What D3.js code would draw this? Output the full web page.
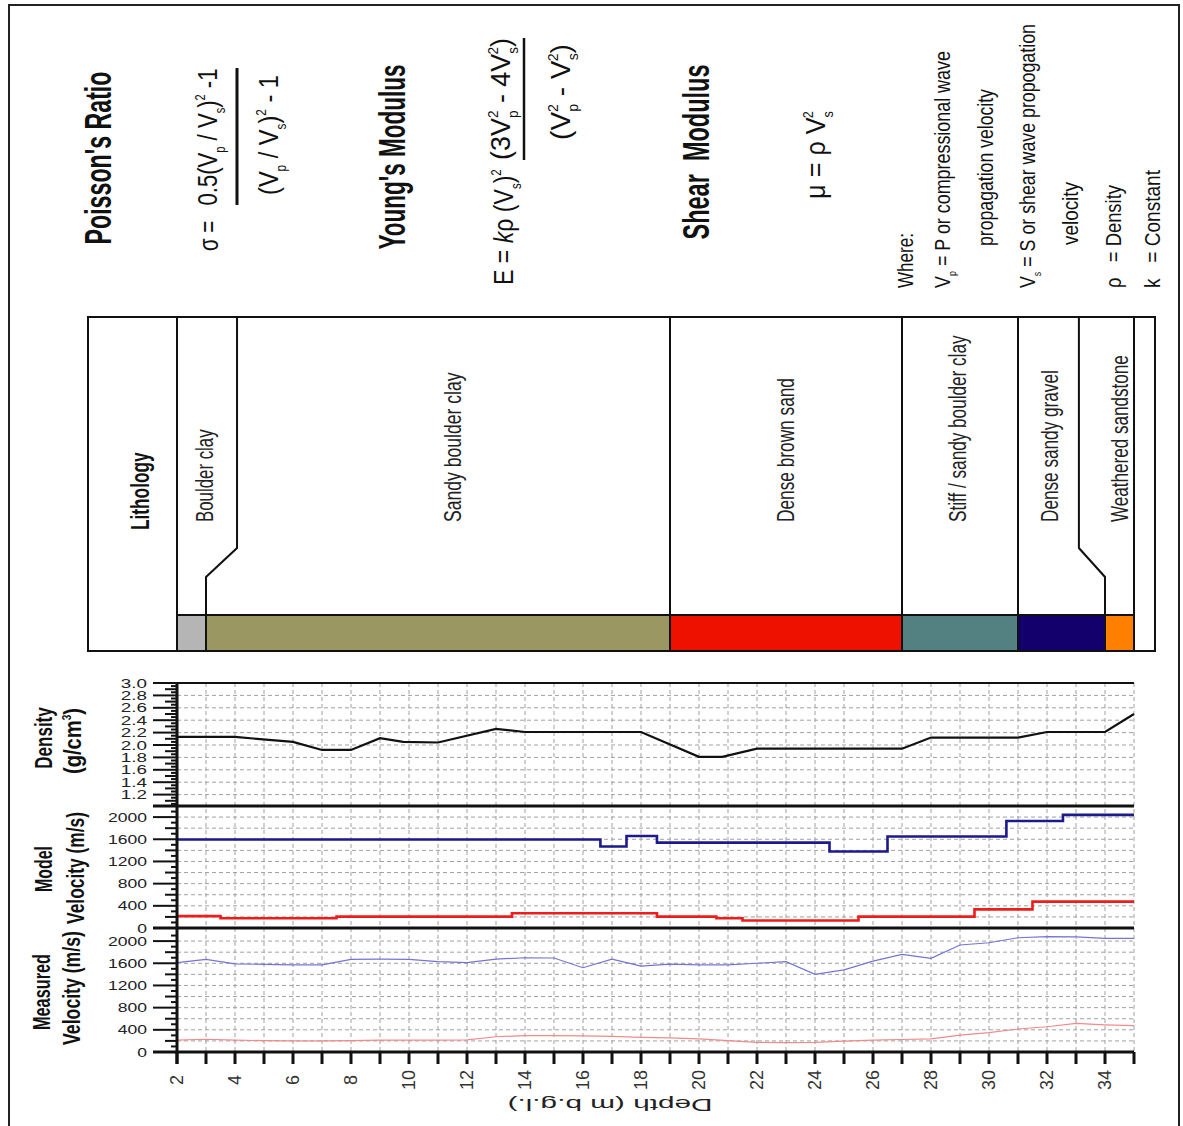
<!DOCTYPE html>
<html>
<head>
<meta charset="utf-8">
<script src="https://cdn.jsdelivr.net/npm/d3@7/dist/d3.min.js"></script>
<style>
  body { margin: 0; background: #fff; }
  svg { display: block; }
  text { white-space: pre; }
</style>
</head>
<body>
<svg id="chart" width="1183" height="1126"></svg>
<script>
// ---------------- data ----------------
// Density log (g/cm3) against depth (m b.g.l.)
const densityDepth = [2, 4, 6, 7, 8, 9, 9.8, 11, 13, 14, 18, 20, 20.8, 22, 27, 28, 31, 32, 34, 35];
const densityValue = [2.13, 2.13, 2.05, 1.92, 1.92, 2.11, 2.05, 2.04, 2.26, 2.21, 2.21, 1.81, 1.81, 1.94, 1.94, 2.12, 2.12, 2.21, 2.21, 2.5];

// Model velocities: layer tops (m) and constant velocity within each layer (m/s)
const modelVpTop   = [2, 16.6, 17.5, 18.55, 24.5, 26.5, 30.6, 32.55];
const modelVpValue = [1595, 1470, 1660, 1540, 1380, 1650, 1930, 2040];
const modelVsTop   = [2, 3.5, 7.5, 13.55, 18.55, 20.6, 21.5, 25.5, 29.5, 31.5];
const modelVsValue = [215, 175, 205, 265, 205, 175, 135, 205, 335, 475];
const modelBase = 35;

// Measured velocities (m/s) at 1 m intervals
const measuredDepth = [2, 3, 4, 5, 6, 7, 8, 9, 10, 11, 12, 13, 14, 15, 16, 17, 18, 19, 20, 21, 22, 23, 24, 25, 26, 27, 28, 29, 30, 31, 32, 33, 34, 35];
const measuredVp = [1610, 1670, 1590, 1580, 1570, 1570, 1670, 1675, 1670, 1630, 1610, 1675, 1700, 1695, 1520, 1675, 1550, 1585, 1570, 1570, 1600, 1630, 1400, 1480, 1640, 1760, 1690, 1930, 1970, 2060, 2080, 2075, 2050, 2050];
const measuredVs = [215, 230, 215, 205, 200, 200, 205, 215, 215, 215, 220, 275, 295, 295, 290, 280, 265, 255, 235, 205, 175, 168, 175, 195, 215, 225, 235, 305, 350, 415, 455, 515, 490, 475];

// Lithology column
const layerNames  = ["Boulder clay", "Sandy boulder clay", "Dense brown sand", "Stiff / sandy boulder clay", "Dense sandy gravel", "Weathered sandstone"];
const layerTop    = [2, 3, 19, 27, 31, 34];
const layerBase   = [3, 19, 27, 31, 34, 35];
const layerColors = ["#b5b5b5", "#9b9763", "#ee1100", "#538080", "#14006c", "#ff7f00"];
const labelEdge   = [4.07, 19, 27, 31, 33.1];        // boundary position in the label column
const labelDepth  = [2.97, 11.5, 23.0, 28.93, 32.1, 34.5];
const labelLength = [93, 150, 144, 187, 152, 167];

// Tick labels
const depthTicks = d3.range(2, 36, 1);
const depthLabels = d3.range(2, 35, 2);
const densityLabels = ["1.2", "1.4", "1.6", "1.8", "2.0", "2.2", "2.4", "2.6", "2.8", "3.0"];
const velocityLabels = ["0", "400", "800", "1200", "1600", "2000"];

// ---------------- layout ----------------
const svg = d3.select("#chart");
const FONT = "'Liberation Sans', Arial, sans-serif";

const x = d3.scaleLinear().domain([2, 35]).range([177, 1134]);
const yDen = d3.scaleLinear().domain([1, 3]).range([807, 683]);
const yMod = d3.scaleLinear().domain([0, 2200]).range([928, 806]);
const yMeas = d3.scaleLinear().domain([0, 2200]).range([1052, 930]);

// text helper: rotated text built from parts, optionally squeezed to a given length
function label(parent, o) {
  const size = o.size || 20;
  const g = parent.append("g")
    .attr("transform", `translate(${o.x},${o.y}) rotate(${o.rot === undefined ? -90 : o.rot})`);
  const inner = g.append("g");
  const t = inner.append("text")
    .attr("font-family", FONT)
    .attr("font-size", size)
    .attr("font-weight", o.weight || "normal")
    .attr("text-anchor", o.anchor || "middle")
    .attr("fill", o.fill || "#111")
    .attr("y", size * 0.35);
  const parts = typeof o.parts === "string" ? [[o.parts]] : o.parts;
  let shift = 0;
  parts.forEach(([str, kind]) => {
    let target = 0;
    if (kind === "sub") target = size * 0.3;
    if (kind === "sup" || kind === "supstack") target = -size * 0.42;
    const ts = t.append("tspan").text(str).attr("dy", target - shift);
    if (kind === "sub" || kind === "sup" || kind === "supstack") ts.attr("font-size", size * 0.5);
    if (kind === "supstack") ts.attr("dx", -size * 0.28);
    if (kind === "it") ts.attr("font-style", "italic");
    shift = target;
  });
  if (o.length) {
    const w = t.node().getBBox().width;
    inner.attr("transform", `scale(${o.length / w},1)`);
  } else if (o.sx) {
    inner.attr("transform", `scale(${o.sx},1)`);
  }
  return g;
}

// outer frame
svg.append("rect")
  .attr("x", 9).attr("y", 5).attr("width", 1170).attr("height", 1135)
  .attr("fill", "none").attr("stroke", "#222").attr("stroke-width", 2);

// ---------------- formulas ----------------
const head = svg.append("g");
label(head, { x: 98, y: 158, parts: "Poisson's Ratio", size: 36, weight: "bold", length: 173 });

label(head, { x: 208, y: 251, parts: "σ = ", size: 28, anchor: "start", length: 36 });
label(head, { x: 207, y: 137, size: 28, length: 137,
  parts: [["0.5(V"], ["p", "sub"], [" / V"], ["s", "sub"], [")"], ["2", "sup"], [" -1"]] });
head.append("line").attr("x1", 237).attr("x2", 237).attr("y1", 68).attr("y2", 205)
  .attr("stroke", "#111").attr("stroke-width", 3);
label(head, { x: 268, y: 135, size: 28, length: 120,
  parts: [["(V"], ["p", "sub"], [" / V"], ["s", "sub"], [")"], ["2", "sup"], [" - 1"]] });

label(head, { x: 392, y: 157, parts: "Young's Modulus", size: 36, weight: "bold", length: 185 });

label(head, { x: 503, y: 285, size: 28, anchor: "start", length: 116,
  parts: [["E = "], ["k", "it"], ["ρ (V"], ["s", "sub"], [")"], ["2", "sup"]] });
label(head, { x: 500, y: 99, size: 28, length: 122,
  parts: [["(3V"], ["p", "sub"], ["2", "supstack"], [" - 4V"], ["s", "sub"], ["2", "supstack"], [")"]] });
head.append("line").attr("x1", 524).attr("x2", 524).attr("y1", 38).attr("y2", 160)
  .attr("stroke", "#111").attr("stroke-width", 2.5);
label(head, { x: 560, y: 92, size: 28, length: 96,
  parts: [["(V"], ["p", "sub"], ["2", "supstack"], [" - V"], ["s", "sub"], ["2", "supstack"], [")"]] });

label(head, { x: 696, y: 152, parts: "Shear  Modulus", size: 36, weight: "bold", length: 175 });
label(head, { x: 815, y: 155, size: 28, length: 88,
  parts: [["μ = ρ V"], ["s", "sub"], ["2", "supstack"]] });

label(head, { x: 905, y: 288, parts: "Where:", size: 22, anchor: "start", length: 55 });
label(head, { x: 942, y: 288, size: 22, anchor: "start", length: 237,
  parts: [["V"], ["p", "sub"], [" = P or compressional wave"]] });
label(head, { x: 985, y: 246, parts: "propagation velocity", size: 22, anchor: "start", length: 157 });
label(head, { x: 1027, y: 288, size: 22, anchor: "start", length: 264,
  parts: [["V"], ["s", "sub"], [" = S or shear wave propogation"]] });
label(head, { x: 1070, y: 245, parts: "velocity", size: 22, anchor: "start", length: 63 });
label(head, { x: 1113, y: 288, parts: "ρ   = Density", size: 22, anchor: "start", length: 103 });
label(head, { x: 1152, y: 288, parts: "k   = Constant", size: 22, anchor: "start", length: 118 });

// ---------------- lithology ----------------
const boxTop = 317, boxBottom = 651, stripTop = 615, slantTop = 548, slantBottom = 577;
const boxLeft = 88, boxRight = 1155;
const litho = svg.append("g");

layerTop.forEach((t, i) => {
  litho.append("rect")
    .attr("x", x(t)).attr("y", stripTop)
    .attr("width", x(layerBase[i]) - x(t)).attr("height", boxBottom - stripTop)
    .attr("fill", layerColors[i]);
});

litho.append("rect")
  .attr("x", boxLeft).attr("y", boxTop).attr("width", boxRight - boxLeft).attr("height", boxBottom - boxTop)
  .attr("fill", "none").attr("stroke", "#111").attr("stroke-width", 2);
litho.append("line").attr("x1", x(2)).attr("x2", x(2)).attr("y1", boxTop).attr("y2", boxBottom)
  .attr("stroke", "#111").attr("stroke-width", 2);
litho.append("line").attr("x1", x(35)).attr("x2", x(35)).attr("y1", boxTop).attr("y2", boxBottom)
  .attr("stroke", "#111").attr("stroke-width", 2);
litho.append("line").attr("x1", x(2)).attr("x2", x(35)).attr("y1", stripTop).attr("y2", stripTop)
  .attr("stroke", "#111").attr("stroke-width", 2);

layerBase.slice(0, -1).forEach((b, i) => {
  const path = d3.path();
  path.moveTo(x(labelEdge[i]), boxTop);
  path.lineTo(x(labelEdge[i]), slantTop);
  path.lineTo(x(b), slantBottom);
  path.lineTo(x(b), boxBottom);
  litho.append("path").attr("d", path.toString())
    .attr("fill", "none").attr("stroke", "#111").attr("stroke-width", 2);
});

label(litho, { x: 140, y: 530, parts: "Lithology", size: 26, weight: "bold", anchor: "start", length: 78 });
layerNames.forEach((n, i) => {
  label(litho, { x: x(labelDepth[i]), y: 522, parts: n, size: 23, anchor: "start", length: labelLength[i], fill: "#222" });
});

// ---------------- log tracks ----------------
const plot = svg.append("g");
const x0 = 153, x1 = x(35);
const grid = plot.append("g").attr("stroke", "#a0a0a0").attr("stroke-width", 1).attr("stroke-dasharray", "4,3");

// vertical grid
depthTicks.filter(d => d > 2).forEach(d => {
  grid.append("line").attr("x1", x(d)).attr("x2", x(d)).attr("y1", 683).attr("y2", 1052);
});
// horizontal grid
d3.range(1.2, 2.9, 0.2).forEach(v => {
  grid.append("line").attr("x1", x(2)).attr("x2", x1).attr("y1", yDen(v)).attr("y2", yDen(v));
});
d3.range(200, 2100, 200).forEach(v => {
  grid.append("line").attr("x1", x(2)).attr("x2", x1).attr("y1", yMod(v)).attr("y2", yMod(v));
  grid.append("line").attr("x1", x(2)).attr("x2", x1).attr("y1", yMeas(v)).attr("y2", yMeas(v));
});

// curves
const densLine = d3.line().x((d, i) => x(densityDepth[i])).y(d => yDen(d));
plot.append("path").attr("d", densLine(densityValue))
  .attr("fill", "none").attr("stroke", "#111").attr("stroke-width", 2.2);

function stepPath(tops, vals, ys) {
  const pts = tops.map((t, i) => [x(t), ys(vals[i])]);
  pts.push([x(modelBase), ys(vals[vals.length - 1])]);
  return d3.line().curve(d3.curveStepAfter)(pts);
}
plot.append("path").attr("d", stepPath(modelVpTop, modelVpValue, yMod))
  .attr("fill", "none").attr("stroke", "#1c1a8c").attr("stroke-width", 2.6);
plot.append("path").attr("d", stepPath(modelVsTop, modelVsValue, yMod))
  .attr("fill", "none").attr("stroke", "#ee1c1c").attr("stroke-width", 2.6);

const measLine = d3.line().x((d, i) => x(measuredDepth[i])).y(d => yMeas(d));
plot.append("path").attr("d", measLine(measuredVp))
  .attr("fill", "none").attr("stroke", "#7474d6").attr("stroke-width", 1.2);
plot.append("path").attr("d", measLine(measuredVs))
  .attr("fill", "none").attr("stroke", "#f28a8a").attr("stroke-width", 1.2);

// track borders
const frame = plot.append("g").attr("stroke", "#111");
frame.append("line").attr("x1", x0).attr("x2", x1).attr("y1", 683).attr("y2", 683).attr("stroke-width", 2);
frame.append("line").attr("x1", x0).attr("x2", x1).attr("y1", 806).attr("y2", 806).attr("stroke-width", 3);
frame.append("line").attr("x1", x0).attr("x2", x1).attr("y1", 928).attr("y2", 928).attr("stroke-width", 3);
frame.append("line").attr("x1", x0).attr("x2", x1).attr("y1", 1052).attr("y2", 1052).attr("stroke-width", 3);
frame.append("line").attr("x1", x(2)).attr("x2", x(2)).attr("y1", 682).attr("y2", 1064).attr("stroke-width", 3);

// left ruler ticks
const ticks = plot.append("g").attr("stroke", "#111").attr("stroke-width", 2);
d3.range(21, 60).forEach(k => {
  const len = k % 4 === 0 ? 24 : (k % 2 === 0 ? 12 : 6);
  const y = yDen(k * 0.05);
  ticks.append("line").attr("x1", x(2) - len).attr("x2", x(2)).attr("y1", y).attr("y2", y);
});
d3.range(1, 22).forEach(k => {
  const len = k % 4 === 0 ? 24 : (k % 2 === 0 ? 12 : 6);
  [yMod, yMeas].forEach(s => {
    const y = s(k * 100);
    ticks.append("line").attr("x1", x(2) - len).attr("x2", x(2)).attr("y1", y).attr("y2", y);
  });
});

// axis tick labels
densityLabels.forEach(s => label(plot, { x: 147, y: yDen(+s), parts: s, rot: 0, size: 13, anchor: "end", sx: 1.45, fill: "#222" }));
velocityLabels.forEach(s => {
  label(plot, { x: 147, y: yMod(+s), parts: s, rot: 0, size: 13, anchor: "end", sx: 1.35, fill: "#222" });
  label(plot, { x: 147, y: yMeas(+s), parts: s, rot: 0, size: 13, anchor: "end", sx: 1.35, fill: "#222" });
});

// depth axis
const dAxis = plot.append("g").attr("stroke", "#111").attr("stroke-width", 3);
depthTicks.forEach(d => {
  dAxis.append("line").attr("x1", x(d)).attr("x2", x(d)).attr("y1", 1052).attr("y2", 1064);
});
depthLabels.forEach(d => label(plot, { x: x(d), y: 1080, parts: String(d), size: 18, fill: "#333" }));
label(plot, { x: 610, y: 1105, parts: "Depth (m b.g.l.)", rot: 180, size: 17, length: 205, fill: "#222" });

// track titles
label(plot, { x: 44, y: 738, parts: "Density", size: 24, weight: "bold", length: 62 });
label(plot, { x: 73, y: 741, size: 24, weight: "bold", length: 66, parts: [["(g/cm"], ["3", "sup"], [")"]] });
label(plot, { x: 44, y: 869, parts: "Model", size: 24, weight: "bold", length: 46 });
label(plot, { x: 76, y: 868, parts: "Velocity (m/s)", size: 24, weight: "bold", length: 112 });
label(plot, { x: 42, y: 992, parts: "Measured", size: 24, weight: "bold", length: 76 });
label(plot, { x: 72, y: 988, parts: "Velocity (m/s)", size: 24, weight: "bold", length: 114 });
</script>
</body>
</html>
